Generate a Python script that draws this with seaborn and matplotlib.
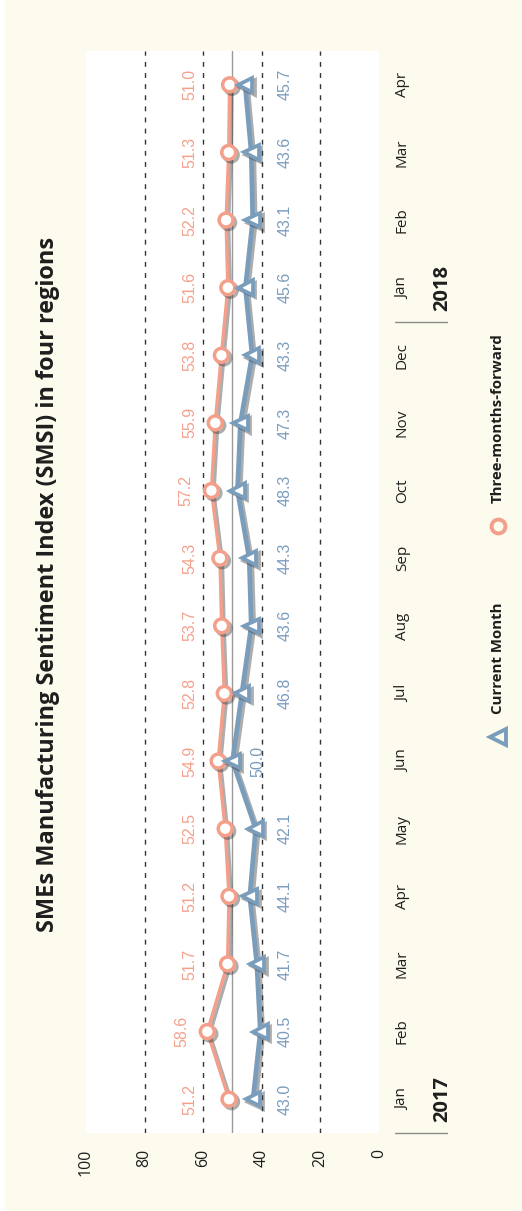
import matplotlib
matplotlib.use("Agg")
import matplotlib.pyplot as plt
import matplotlib.patheffects as pe
from matplotlib.lines import Line2D
from matplotlib.patches import Rectangle
from matplotlib.transforms import blended_transform_factory
import seaborn as sns
import pandas as pd

# ---- data ----
months = ["Jan", "Feb", "Mar", "Apr", "May", "Jun", "Jul", "Aug", "Sep", "Oct",
          "Nov", "Dec", "Jan", "Feb", "Mar", "Apr"]
year_labels = {0: "2017", 12: "2018"}
current_month = [43.0, 40.5, 41.7, 44.1, 42.1, 50.0, 46.8, 43.6, 44.3, 48.3,
                 47.3, 43.3, 45.6, 43.1, 43.6, 45.7]
three_months_forward = [51.2, 58.6, 51.7, 51.2, 52.5, 54.9, 52.8, 53.7, 54.3, 57.2,
                        55.9, 53.8, 51.6, 52.2, 51.3, 51.0]
value_ticks = [0, 20, 40, 60, 80, 100]
title = "SMEs Manufacturing Sentiment Index (SMSI) in four regions"

ORANGE = "#F39F8A"
BLUE = "#7A9DBC"
ORANGE_TXT = "#F3A18D"
BLUE_TXT = "#7A9DBF"
CREAM = "#FDFBEE"
DARK = "#1e1e1e"

sns.set_theme(style="white")
plt.rcParams["font.family"] = ["Open Sans", "DejaVu Sans"]

W, H = 522, 1211
fig = plt.figure(figsize=(W / 100, H / 100), dpi=100, facecolor=CREAM)
fig.add_artist(Rectangle((0, 0), 4 / W, 1, transform=fig.transFigure,
                         color="white", zorder=-10))

# plot area (values run right-to-left, months bottom-to-top)
x0, x1, y0, y1 = 86, 379, 51, 1133
ax = fig.add_axes([x0 / W, 1 - y1 / H, (x1 - x0) / W, (y1 - y0) / H])
ax.set_facecolor("white")
for s in ax.spines.values():
    s.set_visible(False)

pos = list(range(len(months)))
df = pd.DataFrame({"pos": pos, "cur": current_month, "fwd": three_months_forward})

# grid: dashed at 20/40/60/80, solid reference at 50
for v in value_ticks[1:-1]:
    ax.axvline(v, color="#333333", lw=1.0, ls=(0, (3.5, 4.5)), zorder=1)
ax.axvline(50, color="#9a9a9a", lw=1.0, zorder=1)

shadow = [pe.SimpleLineShadow(offset=(1.8, -1.8), shadow_color="#333333", alpha=0.4),
          pe.Normal()]

sns.lineplot(data=df, x="fwd", y="pos", orient="y", sort=False, estimator=None,
             ax=ax, color=ORANGE, lw=2.4, marker="o", ms=10, mfc="white",
             mec=ORANGE, mew=2.5, zorder=3, legend=False)
sns.lineplot(data=df, x="cur", y="pos", orient="y", sort=False, estimator=None,
             ax=ax, color=BLUE, lw=3.4, marker="<", ms=10.5, mfc="white",
             mec=BLUE, mew=2.7, zorder=4, legend=False)
for ln in ax.lines[-2:]:
    ln.set_path_effects(shadow)

ax.set_xlim(100, 0)
ax.set_ylim(-0.5, len(months) - 0.5)
ax.set_xlabel("")
ax.set_ylabel("")

# value labels: orange in a lane left of the lines, blue in a lane to the right
lane_fwd, lane_cur = 64.6, 32.0
for i, (c, f) in enumerate(zip(current_month, three_months_forward)):
    xf = max(lane_fwd, f + 8.6)
    ax.text(xf, i, f"{f:.1f}", rotation=90, ha="center", va="center",
            color=ORANGE_TXT, fontsize=11.5, family="Liberation Sans", zorder=5)
    xc = c - 8.7 if c >= 50 else lane_cur
    ax.text(xc, i, f"{c:.1f}", rotation=90, ha="center", va="center",
            color=BLUE_TXT, fontsize=11.5, family="Liberation Sans", zorder=5)

# value axis along the bottom
ax.set_xticks(value_ticks)
ax.set_xticklabels([str(v) for v in value_ticks])
ax.tick_params(axis="x", length=0, pad=11.5, labelrotation=90,
               labelsize=11.5, labelcolor=DARK)

# month axis on the right
ax.yaxis.tick_right()
ax.set_yticks(pos)
ax.set_yticklabels(months)
ax.tick_params(axis="y", length=0, pad=11.5, labelrotation=90,
               labelsize=11, labelcolor=DARK)
for lab in ax.get_yticklabels():
    lab.set_va("center")

# year labels and separators
tr = blended_transform_factory(ax.transAxes, ax.transData)
for i, yr in year_labels.items():
    ax.text((432 - x0) / (x1 - x0), i, yr, transform=tr, rotation=90,
            ha="left", va="center", fontsize=14.5, fontweight="bold", color=DARK)
    ax.plot([(395 - x0) / (x1 - x0), (447 - x0) / (x1 - x0)], [i - 0.5, i - 0.5],
            transform=tr, color="#8a8a8a", lw=1.0, clip_on=False)

# title
fig.text(48 / W, 1 - 584 / H, title, rotation=90, ha="center", va="center",
         fontsize=16.9, fontweight="bold", color=DARK)

# legend
def legend_item(ypx, marker, color, ms, label):
    fig.add_artist(Line2D([498 / W], [1 - ypx / H], marker=marker, ms=ms,
                          mfc=CREAM, mec=color, mew=2.8, ls="none",
                          transform=fig.transFigure))
    fig.text(498 / W, 1 - (ypx - 23) / H, label, rotation=90, ha="center",
             va="bottom", fontsize=10.8, fontweight="bold", color=DARK)

legend_item(737, "<", BLUE, 12, "Current Month")
legend_item(526, "o", ORANGE, 10, "Three-months-forward")

fig.savefig("out.png", dpi=100, facecolor=CREAM)
